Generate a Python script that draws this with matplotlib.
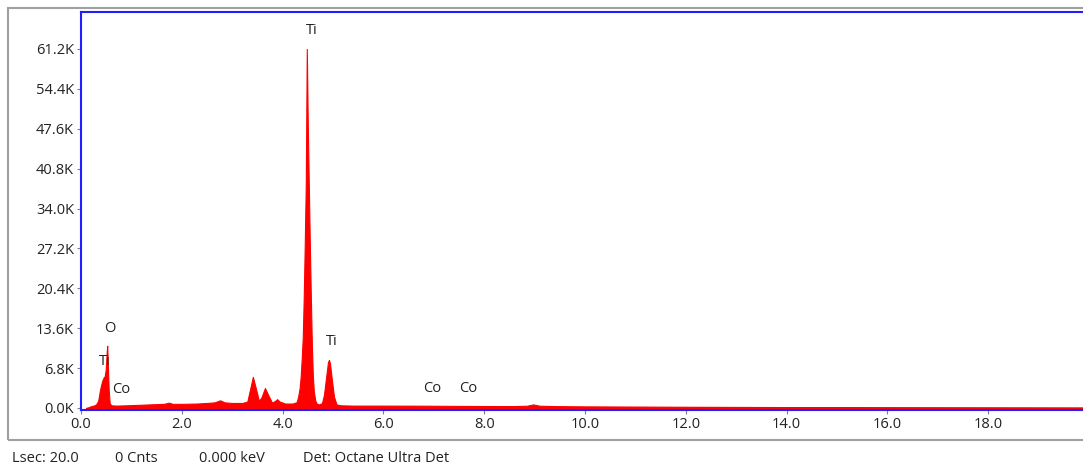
import matplotlib
matplotlib.use("Agg")
import matplotlib.pyplot as plt
from matplotlib.patches import Rectangle
from matplotlib.ticker import FuncFormatter

plt.rcParams['font.family'] = ['Open Sans', 'DejaVu Sans']

# spectrum: energy (keV) and counts (thousands)
energia = [0.10, 0.15, 0.20, 0.25, 0.30, 0.34, 0.38, 0.42, 0.45, 0.47, 0.49, 0.51, 0.52, 0.53,
           0.55, 0.57, 0.60, 0.70, 0.90, 1.20, 1.50, 1.65, 1.74, 1.82, 2.00, 2.30, 2.50, 2.65,
           2.76, 2.85, 3.00, 3.20, 3.30, 3.35, 3.41, 3.47, 3.53, 3.58, 3.65, 3.72, 3.79, 3.85,
           3.89, 3.94, 4.05, 4.20, 4.28, 4.31, 4.34, 4.36, 4.38, 4.40, 4.42, 4.44, 4.46, 4.48,
           4.50, 4.52, 4.54, 4.56, 4.58, 4.60, 4.62, 4.65, 4.68, 4.72, 4.78, 4.82, 4.86, 4.90,
           4.92, 4.94, 4.98, 5.02, 5.07, 5.15, 5.40, 6.00, 6.90, 7.50, 8.00, 8.60, 8.85, 8.97,
           9.10, 9.40, 9.60, 10.0, 12.0, 14.0, 16.0, 18.0, 20.0]
cuentas = [0.0, 0.1, 0.3, 0.4, 0.6, 1.2, 3.2, 4.6, 5.2, 5.4, 6.5, 9.5, 10.6, 8.0,
           3.0, 0.8, 0.45, 0.4, 0.45, 0.55, 0.65, 0.7, 0.9, 0.7, 0.7, 0.75, 0.85, 0.95,
           1.3, 0.95, 0.85, 0.85, 1.1, 3.0, 5.3, 3.3, 1.2, 1.8, 3.4, 2.1, 0.9, 1.2,
           1.5, 1.1, 0.75, 0.75, 1.0, 2.0, 3.5, 5.5, 8.5, 12.0, 19.0, 28.0, 38.0, 61.2,
           48.0, 38.0, 28.0, 19.0, 11.0, 5.5, 2.8, 1.2, 0.7, 0.6, 0.8, 2.2, 5.0, 7.8,
           8.2, 7.6, 4.6, 1.9, 0.6, 0.45, 0.4, 0.4, 0.38, 0.35, 0.33, 0.32, 0.38, 0.6,
           0.38, 0.32, 0.3, 0.27, 0.2, 0.15, 0.12, 0.1, 0.08]

# peak labels: (text, energy, counts)
etiquetas = [('Ti', 4.58, 64.4), ('Ti', 4.98, 11.3), ('O', 0.57, 13.6),
             ('Ti', 0.47, 7.9), ('Co', 0.80, 3.2), ('Co', 6.96, 3.4), ('Co', 7.68, 3.4)]

xticks = [0, 2, 4, 6, 8, 10, 12, 14, 16, 18]
yticks = [0.0, 6.8, 13.6, 20.4, 27.2, 34.0, 40.8, 47.6, 54.4, 61.2]

estado = [('Lsec: 20.0', 12), ('0 Cnts', 115), ('0.000 keV', 199), ('Det: Octane Ultra Det', 303)]

W, H = 1083, 471
fig = plt.figure(figsize=(W / 100, H / 100), dpi=100)
fig.patch.set_facecolor('white')

# outer gray frame
fig.patches.append(Rectangle((8 / W, 1 - 440 / H), 1.2, (440 - 8) / H, transform=fig.transFigure,
                             fill=False, edgecolor='#a0a0a0', linewidth=1.5))

ax = fig.add_axes([81 / W, 1 - 410 / H, (1089 - 81) / W, (410 - 12) / H])
ax.fill_between(energia, 0, cuentas, color='#ff0000', linewidth=0.8, edgecolor='#ff0000')
ax.set_xlim(0, 20)
ax.set_ylim(-0.35, 67.5)
ax.set_xticks(xticks)
ax.set_yticks(yticks)
ax.xaxis.set_major_formatter(FuncFormatter(lambda v, p: '%.1f' % v))
ax.yaxis.set_major_formatter(FuncFormatter(lambda v, p: '%.1fK' % v))
ax.tick_params(length=3, width=0.8, color='#808080', labelsize=10.5, labelcolor='#222222', pad=2)

for s in ax.spines.values():
    s.set_color('#2020ff')
    s.set_linewidth(1.5)

for texto, x, y in etiquetas:
    ax.text(x, y, texto, ha='center', va='center', fontsize=10.5, color='#222222')

for texto, px in estado:
    fig.text(px / W, 1 - 458 / H, texto, ha='left', va='center', fontsize=10.5, color='#222222')

fig.savefig('out.png', dpi=100)
